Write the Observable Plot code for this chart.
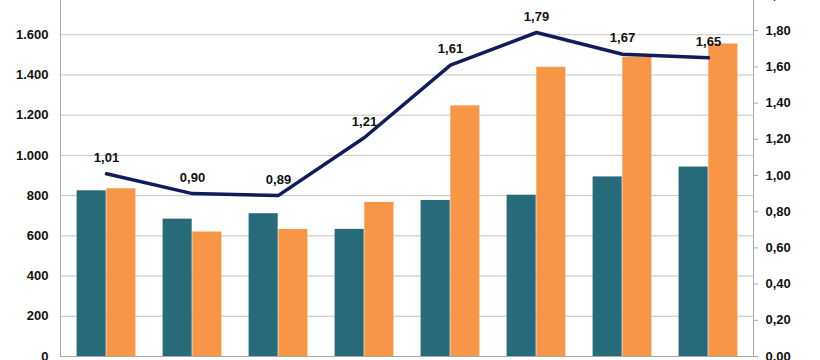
<!DOCTYPE html>
<html><head><meta charset="utf-8">
<script src="https://cdn.jsdelivr.net/npm/d3@7"></script>
<script src="https://cdn.jsdelivr.net/npm/@observablehq/plot@0.6"></script>
<style>
html,body{margin:0;padding:0;background:#fff;overflow:hidden;width:820px;height:360px}
#chart{position:absolute;left:0;top:-16px}
</style></head><body><div id="chart"></div>
<script>
const categories = ["1","2","3","4","5","6","7","8"];
const seriesA = [824, 683, 710, 632, 776, 802, 893, 942];
const seriesB = [834, 619, 632, 766, 1246, 1438, 1488, 1554];
const ratio = [1.01, 0.90, 0.89, 1.21, 1.61, 1.79, 1.67, 1.65];
const leftTicks = [0, 200, 400, 600, 800, 1000, 1200, 1400, 1600, 1800];
const rightTicks = [0, 0.2, 0.4, 0.6, 0.8, 1.0, 1.2, 1.4, 1.6, 1.8, 2.0];
const leftMax = 1800, rightMax = 2.0;
const k = leftMax / rightMax;

const fmtLeft = d => d3.format(",")(d).replace(/,/g, ".");
const fmtRight = d => d.toFixed(2).replace(".", ",");

const W = 820, ML = 60, MR = 67;
const bw = (W - ML - MR) / categories.length;
const gap = 13.6;

const barsA = categories.map((c, i) => ({cat: c, v: seriesA[i]}));
const barsB = categories.map((c, i) => ({cat: c, v: seriesB[i]}));
const line = categories.map((c, i) => ({cat: c, r: ratio[i]}));

const chart = Plot.plot({
  width: W, height: 382,
  marginLeft: ML, marginRight: MR, marginTop: 10, marginBottom: 10,
  style: {fontFamily: "'Liberation Sans', Arial, sans-serif", fontSize: "13px", fontWeight: "bold", color: "#111", background: "#fff"},
  x: {type: "band", domain: categories, padding: 0, axis: null},
  y: {domain: [0, leftMax], axis: null},
  marks: [
    Plot.ruleY(leftTicks.filter(d => d > 0), {stroke: "#c4c4c4", strokeWidth: 1}),
    Plot.barY(barsA, {x: "cat", y: "v", fill: "#276a79", insetLeft: gap, insetRight: bw / 2}),
    Plot.barY(barsB, {x: "cat", y: "v", fill: "#f79646", insetLeft: bw / 2, insetRight: gap}),
    Plot.ruleY([0], {stroke: "#a8a8a8"}),
    Plot.frame({anchor: "left", stroke: "#a8a8a8"}),
    Plot.frame({anchor: "right", stroke: "#a8a8a8"}),
    Plot.axisY(leftTicks, {anchor: "left", tickSize: 0, tickPadding: 12, tickFormat: fmtLeft}),
    Plot.axisY(rightTicks.map(d => d * k), {anchor: "right", tickSize: 4, tickPadding: 8, stroke: "#a8a8a8", tickFormat: d => fmtRight(d / k)}),
    Plot.lineY(line, {x: "cat", y: d => d.r * k, stroke: "#101d5c", strokeWidth: 3.5}),
    Plot.text(line, {x: "cat", y: d => d.r * k, text: d => fmtRight(d.r), dy: -16, fill: "#111"})
  ]
});
document.getElementById("chart").appendChild(chart);
</script></body></html>
